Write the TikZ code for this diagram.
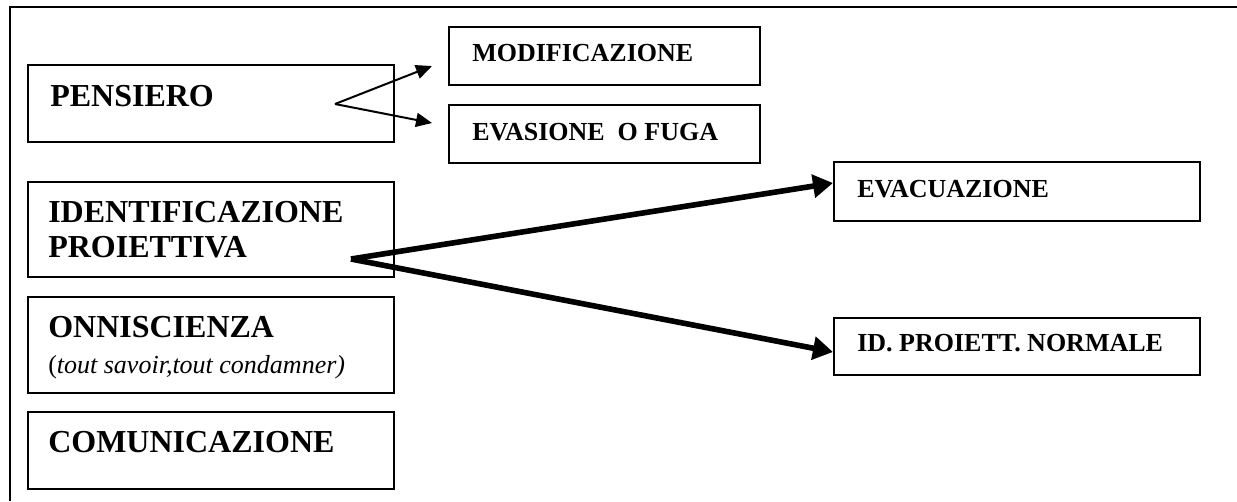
\documentclass[tikz,border=0pt]{standalone}
\usepackage{fontspec}
\setmainfont{Liberation Serif}
\usetikzlibrary{arrows.meta,fit}
\begin{document}
\begin{tikzpicture}[x=0.75pt,y=-0.75pt,
  box/.style={draw,line width=1.5pt,inner sep=0pt,fit={#1}},
  big/.style={inner sep=0pt,anchor=base west,font=\fontsize{24}{28}\selectfont\bfseries},
  small/.style={inner sep=0pt,anchor=base west,font=\fontsize{19.5}{23}\selectfont\bfseries},
  note/.style={inner sep=0pt,anchor=base west,font=\fontsize{19.5}{23}\selectfont},
  thin/.style={line width=1.5pt,-{Triangle[length=12pt,width=10.5pt]}},
  thick/.style={line width=4.2pt,-{Triangle[length=15pt,width=17pt]}}]
\useasboundingbox (0,0) rectangle (1237,501);
% outer frame (top and left sides)
\draw[line width=1.5pt] (9.5,501) -- (9.5,6.5) -- (1237,6.5);

% left column
\node[box={(28,65) (394,142)}] (pens) {};
\node[big] (tpens) at (50,106) {PENSIERO};
\node[box={(28,182) (394,277)}] (ident) {};
\node[big] (tident1) at (48,222) {IDENTIFICAZIONE};
\node[big] (tident2) at (48,257) {PROIETTIVA};
\node[box={(28,297) (394,393)}] (onni) {};
\node[big] (tonni) at (48,337) {ONNISCIENZA};
\node[note] (tonni2) at (48,373) {(\textit{tout savoir,tout condamner)}};
\node[box={(28,412) (394,489)}] (comu) {};
\node[big] (tcomu) at (48,452) {COMUNICAZIONE};

% branches of PENSIERO
\node[box={(449,27) (760,85)}] (modi) {};
\node[small] (tmodi) at (472,61) {MODIFICAZIONE};
\node[box={(449,105) (760,163)}] (evas) {};
\node[small] (tevas) at (472,140) {EVASIONE\ \ O FUGA};

% branches of IDENTIFICAZIONE PROIETTIVA
\node[box={(834,162) (1200,221)}] (evac) {};
\node[small] (tevac) at (857,197) {EVACUAZIONE};
\node[box={(834,318) (1200,375)}] (norm) {};
\node[small] (tnorm) at (857,351) {ID. PROIETT. NORMALE};

% connectors
\coordinate (papex) at (335,104);
\coordinate (ptop) at (432,66);
\coordinate (pbot) at (432,123);
\draw[thin] (papex) -- (ptop);
\draw[thin] (papex) -- (pbot);

\coordinate (iapex) at (351,259);
\draw[thick] (iapex) -- (evac.west |- 0,183);
\draw[thick] (iapex) -- (norm.west |- 0,352);
\end{tikzpicture}
\end{document}
